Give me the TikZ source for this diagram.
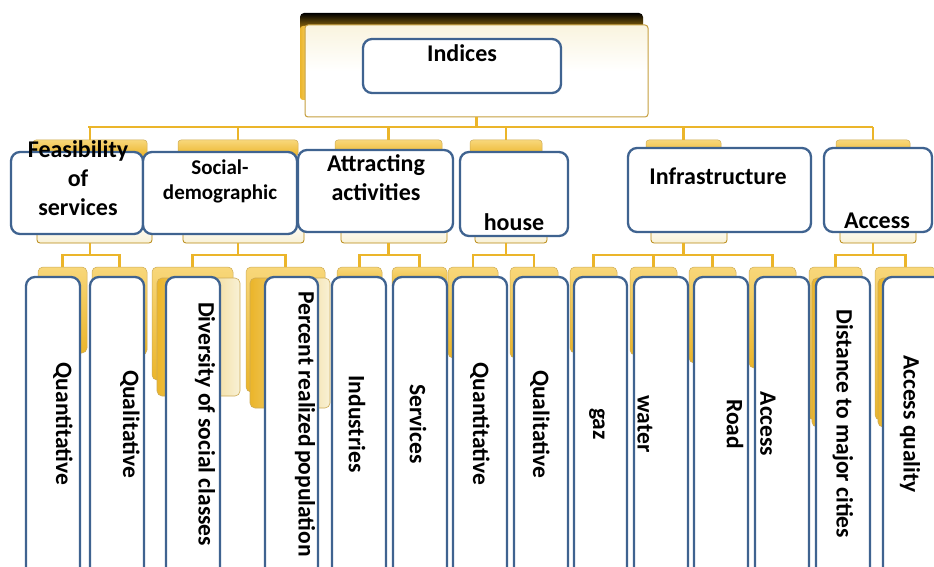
\documentclass[tikz,border=0pt]{standalone}
\usepackage{fontspec}
\setmainfont{Carlito}
\definecolor{bl}{HTML}{3F6390}
\definecolor{gold}{HTML}{EBB52A}
\definecolor{goldl}{HTML}{F8D77A}
\definecolor{golddk}{HTML}{B8870F}
\definecolor{cream}{HTML}{F8F1D6}
\newcommand\bx[6]{\node[#1, minimum width={(#5)-(#3)}, minimum height={(#6)-(#4)}] (#2) at ({((#3)+(#5))/2},{((#4)+(#6))/2}) {};}
\begin{document}
\begin{tikzpicture}[x=1pt,y=-1pt,
  every node/.style={inner sep=0pt, outer sep=0pt},
  bluebox/.style={draw=bl, line width=2.3pt, fill=white, rounded corners=9pt},
  link/.style={draw=gold, line width=2.6pt},
  tabtop/.style={draw=golddk!70, line width=0.5pt, top color=goldl, bottom color=gold, rounded corners=3pt},
  tabbot/.style={draw=golddk, line width=0.8pt, top color=white, bottom color=cream, rounded corners=3pt},
  leafback/.style={draw=golddk!70, line width=0.5pt, top color=goldl, bottom color=gold, rounded corners=5pt},
  leafcream/.style={draw=golddk!70, line width=0.6pt, left color=gold, right color=cream, rounded corners=5pt},
  lbl/.style={font=\bfseries\fontsize{24}{29}\selectfont, align=center},
  vlbl/.style={lbl, font=\bfseries\fontsize{23.5}{28}\selectfont, rotate=-90}]
\useasboundingbox (0,0) rectangle (934,567);
\clip (0,0) rectangle (934,567);
\fill[white] (0,0) rectangle (934,567);

% ---------- top box ----------
\bx{top color=black, bottom color=golddk, rounded corners=4pt}{bandtop}{300}{13}{643}{32}
\bx{left color=gold, right color=goldl, rounded corners=3pt}{strip}{300}{26}{310}{100}
\bx{draw=golddk!80, line width=1pt, top color=cream!80!white, bottom color=white, middle color=white, rounded corners=3pt}{topbox}{305}{25}{648}{117}
\bx{bluebox}{ind}{363}{39}{561}{93}
\node[lbl] (tind) at (462,53) {Indices};

% ---------- bus ----------
\coordinate (busL) at (88,127);
\coordinate (busR) at (873,127);
\draw[link] (busL) -- (busR);
\draw[link] (topbox.south) -- (topbox.south |- busL);

% ---------- second level tabs ----------
\bx{tabtop}{tF}{33}{140}{147}{156}
\bx{tabtop}{tS}{178}{140}{298}{156}
\bx{tabtop}{tA}{335}{140}{442}{156}
\bx{tabtop}{tH}{470}{140}{542}{156}
\bx{tabtop}{tI}{646}{140}{721}{156}
\bx{tabtop}{tC}{836}{140}{910}{156}
\bx{tabbot}{bF}{37}{222}{152}{243}
\bx{tabbot}{bS}{183}{222}{304}{243}
\bx{tabbot}{bA}{341}{222}{447}{243}
\bx{tabbot}{bH}{475}{222}{547}{243}
\bx{tabbot}{bI}{651}{222}{727}{243}
\bx{tabbot}{bC}{840}{222}{916}{243}
\foreach \t in {tF,tS,tA,tH,tI,tC}{\draw[link] (\t.north) -- (\t.north |- busL);}

% ---------- second level boxes ----------
\bx{bluebox}{F}{11}{152}{143}{234}
\bx{bluebox}{S}{143}{152}{297}{234}
\bx{bluebox}{A}{298}{150}{453}{232}
\bx{bluebox}{H}{460}{152}{568}{236}
\bx{bluebox}{I}{628}{148}{811}{232}
\bx{bluebox}{C}{824}{148}{932}{232}
\node[lbl] (tFt) at (78,178.5) {Feasibility\\of\\services};
\node[lbl, font=\bfseries\fontsize{21}{25}\selectfont] (tSt) at (220,181) {Social-\\demographic};
\node[lbl] (tAt) at (376,178) {Attracting\\activities};
\node[lbl] (tHt) at (514,222) {house};
\node[lbl] (tIt) at (718,176) {Infrastructure};
\node[lbl] (tCt) at (877,221) {Access};

% ---------- leaf backs ----------
\bx{leafback}{lb1}{38}{267}{87}{353}
\bx{leafback}{lb2}{92}{267}{147}{355}
\bx{leafback}{lb3}{152}{267}{233}{380}
\bx{leafcream}{lc3}{157}{278}{240}{396}
\bx{leafback}{lb4}{246}{267}{325}{392}
\bx{leafcream}{lc4}{250}{278}{330}{408}
\bx{leafback}{lb5}{337}{267}{382}{290}
\bx{leafback}{lb6}{392}{267}{447}{290}
\bx{leafback}{lb7}{448}{267}{498}{358}
\bx{leafback}{lb8}{510}{267}{558}{358}
\bx{leafback}{lb9}{570}{267}{617}{353}
\bx{leafback}{lb10}{630}{267}{677}{355}
\bx{leafback}{lb11}{689}{267}{736}{363}
\bx{leafback}{lb12}{749}{267}{796}{368}
\bx{leafback}{lb13}{809}{267}{862}{420}
\bx{leafcream}{lc13}{812}{278}{866}{427}
\bx{leafback}{lb14}{875}{267}{936}{420}
\bx{leafcream}{lc14}{878}{278}{940}{427}

% ---------- group connectors ----------
\draw[link] (tF.north |- bF.south) -- ++(0,12) -| (lb1.north);
\draw[link] (tF.north |- bF.south) ++(0,12) -| (lb2.north);
\draw[link] (tS.north |- bS.south) -- ++(0,12) -| (lb3.north);
\draw[link] (tS.north |- bS.south) ++(0,12) -| (lb4.north);
\draw[link] (tA.north |- bA.south) -- ++(0,12) -| (lb5.north);
\draw[link] (tA.north |- bA.south) ++(0,12) -| (lb6.north);
\draw[link] (tH.north |- bH.south) -- ++(0,12) -| (lb7.north);
\draw[link] (tH.north |- bH.south) ++(0,12) -| (lb8.north);
\draw[link] (tI.north |- bI.south) -- ++(0,12) -| (lb9.north);
\draw[link] (tI.north |- bI.south) ++(0,12) -| (lb10.north);
\draw[link] (tI.north |- bI.south) ++(0,12) -| (lb11.north);
\draw[link] (tI.north |- bI.south) ++(0,12) -| (lb12.north);
\draw[link] (tC.north |- bC.south) -- ++(0,12) -| (lb13.north);
\draw[link] (tC.north |- bC.south) ++(0,12) -| (lb14.north);

% ---------- leaves ----------
\bx{bluebox}{l1}{26}{277}{80}{600}
\bx{bluebox}{l2}{90}{277}{144}{600}
\bx{bluebox}{l3}{166}{277}{220}{600}
\bx{bluebox}{l4}{265}{277}{318}{600}
\bx{bluebox}{l5}{332}{277}{386}{600}
\bx{bluebox}{l6}{393}{277}{447}{600}
\bx{bluebox}{l7}{453}{277}{507}{600}
\bx{bluebox}{l8}{514}{277}{568}{600}
\bx{bluebox}{l9}{574}{277}{627}{600}
\bx{bluebox}{l10}{634}{277}{688}{600}
\bx{bluebox}{l11}{694}{277}{748}{600}
\bx{bluebox}{l12}{755}{277}{809}{600}
\bx{bluebox}{l13}{816}{277}{870}{600}
\bx{bluebox}{l14}{883}{277}{945}{600}

\node[vlbl] (v1) at (63,424) {Quantitative};
\node[vlbl] (v2) at (130,424) {Qualitative};
\node[vlbl] (v3) at (205,424) {Diversity of social classes};
\node[vlbl] (v4) at (305,424) {Percent realized\hspace{-2pt} population};
\node[vlbl] (v5) at (357,424) {Industries};
\node[vlbl] (v6) at (418,424) {Services};
\node[vlbl] (v7) at (480,424) {Quantitative};
\node[vlbl] (v8) at (540,424) {Qualitative};
\node[vlbl] (v9) at (597,424) {gaz};
\node[vlbl] (v10) at (645,424) {water};
\node[vlbl] (v11) at (735,424) {Road};
\node[vlbl] (v12) at (768,424) {Access};
\node[vlbl] (v13) at (843,424) {Distance to major cities};
\node[vlbl] (v14) at (910,424) {Access quality};
\end{tikzpicture}
\end{document}
